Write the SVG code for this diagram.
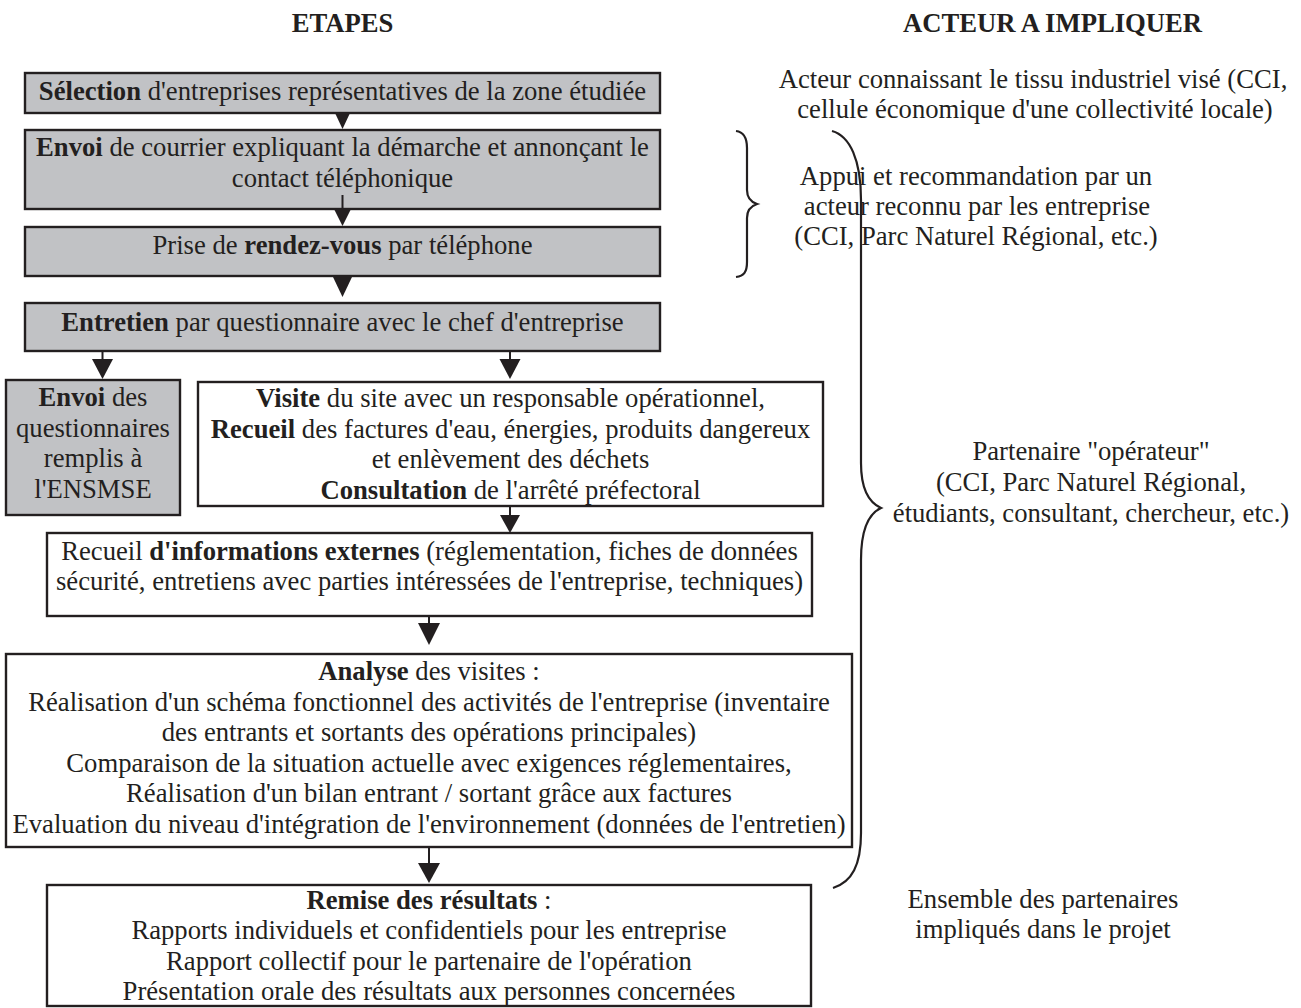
<svg xmlns="http://www.w3.org/2000/svg" width="1301" height="1008" viewBox="0 0 1301 1008">
<style>
.t{font-family:"Liberation Serif","Times New Roman",serif;font-size:26.67px;fill:#231f20;text-anchor:middle}
.b{font-weight:bold}
.box{stroke:#231f20;stroke-width:2.4}
.g{fill:#c1c2c5}
.w{fill:#ffffff}
.ar{fill:#231f20;stroke:none}
.st{stroke:#231f20;stroke-width:2;fill:none}
.br{stroke:#231f20;stroke-width:2.2;fill:none}
</style>
<rect width="1301" height="1008" fill="#ffffff"/>
<g id="headers">
<text class="t b" x="342.5" y="32">ETAPES</text>
<text class="t b" x="1052.5" y="32">ACTEUR A IMPLIQUER</text>
</g>
<g id="n1">
<rect class="box g" x="25" y="73" width="635" height="40"/>
<text class="t" x="342.5" y="99.5"><tspan class="b">Sélection</tspan> d'entreprises représentatives de la zone étudiée</text>
</g>
<g id="n2">
<rect class="box g" x="25" y="130" width="635" height="79"/>
<text class="t" x="342.5" y="156"><tspan class="b">Envoi</tspan> de courrier expliquant la démarche et annonçant le</text>
<text class="t" x="342.5" y="186.5">contact téléphonique</text>
</g>
<g id="n3">
<rect class="box g" x="25" y="227" width="635" height="49"/>
<text class="t" x="342.5" y="254">Prise de <tspan class="b">rendez-vous</tspan> par téléphone</text>
</g>
<g id="n4">
<rect class="box g" x="25" y="303" width="635" height="48"/>
<text class="t" x="342.5" y="331"><tspan class="b">Entretien</tspan> par questionnaire avec le chef d'entreprise</text>
</g>
<g id="n5">
<rect class="box g" x="6" y="380" width="174" height="135"/>
<text class="t" x="93" y="406"><tspan class="b">Envoi</tspan> des</text>
<text class="t" x="93" y="436.5">questionnaires</text>
<text class="t" x="93" y="467">remplis à</text>
<text class="t" x="93" y="497.5">l'ENSMSE</text>
</g>
<g id="n6">
<rect class="box w" x="198" y="382" width="625" height="124"/>
<text class="t" x="510.5" y="407"><tspan class="b">Visite</tspan> du site avec un responsable opérationnel,</text>
<text class="t" x="510.5" y="437.5"><tspan class="b">Recueil</tspan> des factures d'eau, énergies, produits dangereux</text>
<text class="t" x="510.5" y="468">et enlèvement des déchets</text>
<text class="t" x="510.5" y="498.5"><tspan class="b">Consultation</tspan> de l'arrêté préfectoral</text>
</g>
<g id="n7">
<rect class="box w" x="47" y="533" width="765" height="83"/>
<text class="t" x="429.5" y="560">Recueil <tspan class="b">d'informations externes</tspan> (réglementation, fiches de données</text>
<text class="t" x="429.5" y="590">sécurité, entretiens avec parties intéressées de l'entreprise, techniques)</text>
</g>
<g id="n8">
<rect class="box w" x="6" y="654" width="846" height="193"/>
<text class="t" x="429" y="680"><tspan class="b">Analyse</tspan> des visites :</text>
<text class="t" x="429" y="710.5">Réalisation d'un schéma fonctionnel des activités de l'entreprise (inventaire</text>
<text class="t" x="429" y="741">des entrants et sortants des opérations principales)</text>
<text class="t" x="429" y="771.5">Comparaison de la situation actuelle avec exigences réglementaires,</text>
<text class="t" x="429" y="802">Réalisation d'un bilan entrant / sortant grâce aux factures</text>
<text class="t" x="429" y="832.5">Evaluation du niveau d'intégration de l'environnement (données de l'entretien)</text>
</g>
<g id="n9">
<rect class="box w" x="47" y="885" width="764" height="121"/>
<text class="t" x="429" y="908.5"><tspan class="b">Remise des résultats</tspan> :</text>
<text class="t" x="429" y="939">Rapports individuels et confidentiels pour les entreprise</text>
<text class="t" x="429" y="969.5">Rapport collectif pour le partenaire de l'opération</text>
<text class="t" x="429" y="1000">Présentation orale des résultats aux personnes concernées</text>
</g>
<g id="actors">
<text class="t" x="1033" y="88">Acteur connaissant le tissu industriel visé (CCI,</text>
<text class="t" x="1035" y="118">cellule économique d'une collectivité locale)</text>
<text class="t" x="976" y="185">Appui et recommandation par un</text>
<text class="t" x="977" y="215">acteur reconnu par les entreprise</text>
<text class="t" x="976" y="245">(CCI, Parc Naturel Régional, etc.)</text>
<text class="t" x="1091" y="460">Partenaire "opérateur"</text>
<text class="t" x="1091" y="491">(CCI, Parc Naturel Régional,</text>
<text class="t" x="1091" y="522">étudiants, consultant, chercheur, etc.)</text>
<text class="t" x="1043" y="908">Ensemble des partenaires</text>
<text class="t" x="1043" y="938">impliqués dans le projet</text>
</g>
<g id="connectors">
<polygon class="ar" points="335,113 350,113 342.5,129"/>
<line class="st" x1="342.5" y1="195" x2="342.5" y2="210"/>
<polygon class="ar" points="334,209 351,209 342.5,226"/>
<polygon class="ar" points="333,277 352,277 342.5,297"/>
<line class="st" x1="102.5" y1="351" x2="102.5" y2="360" stroke-width="2.5"/>
<polygon class="ar" points="92,359 113,359 102.5,379"/>
<line class="st" x1="510" y1="351" x2="510" y2="360" stroke-width="2.5"/>
<polygon class="ar" points="499.5,359 520.5,359 510,379"/>
<line class="st" x1="510" y1="506" x2="510" y2="516"/>
<polygon class="ar" points="500,515 520,515 510,533"/>
<line class="st" x1="429" y1="616" x2="429" y2="624" stroke-width="2.5"/>
<polygon class="ar" points="418,623 440,623 429,645"/>
<line class="st" x1="429" y1="847" x2="429" y2="864" stroke-width="2.5"/>
<polygon class="ar" points="418,863 440,863 429,883"/>
</g>
<g id="braces">
<path class="br" d="M736 131 C744 132 747 138 747 148 L747 190 C747 198 751 202 757 204 C751 206 747 210 747 218 L747 262 C747 272 744 276 736 277"/>
<path class="br" d="M832 131 C850 136 861 160 861 200 L861 463 C861 490 870 503 881 508 C870 513 861 528 861 560 L861 833 C861 865 852 882 833 888"/>
</g>
</svg>
